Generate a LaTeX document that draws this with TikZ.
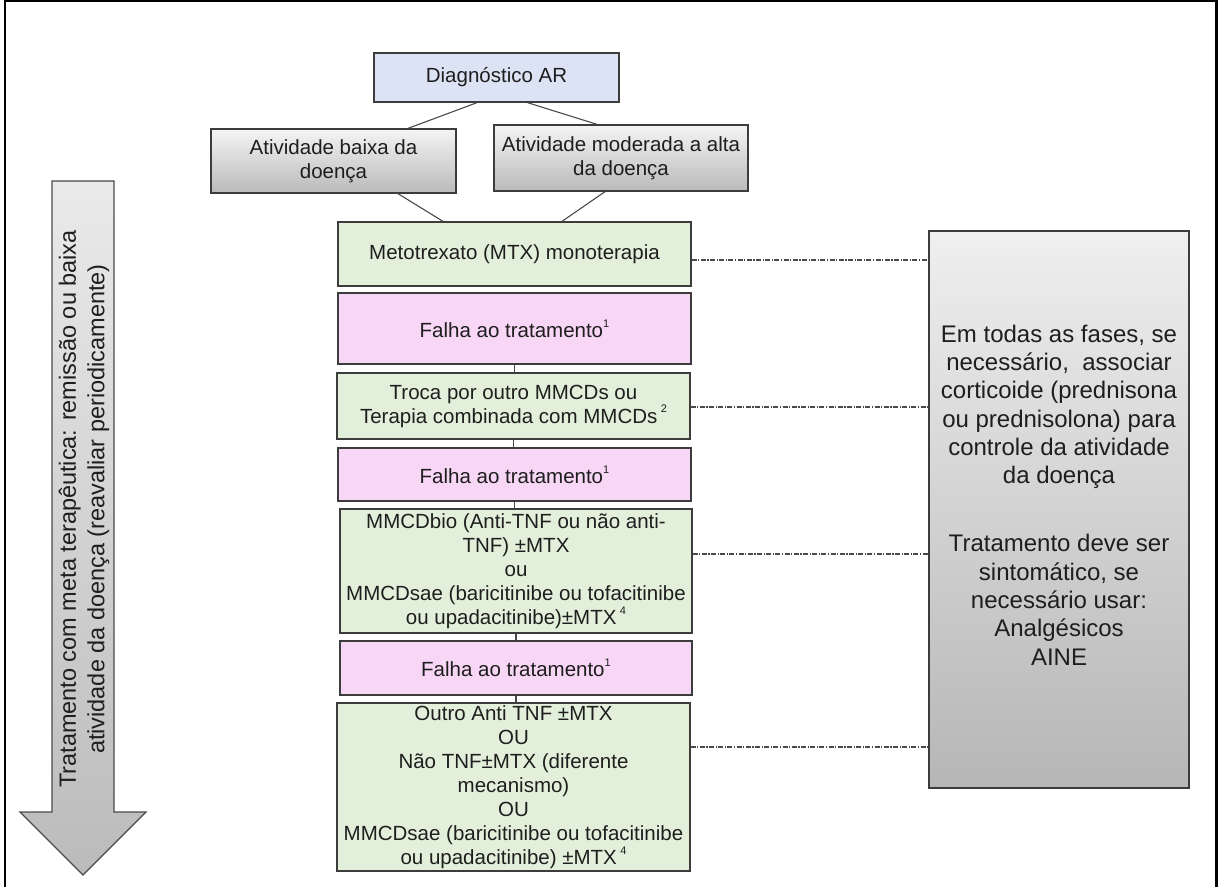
\documentclass[tikz,border=0pt]{standalone}
\usepackage{fontspec}
\setmainfont{Liberation Sans}
\definecolor{bordc}{HTML}{3C3C3C}
\definecolor{linec}{HTML}{4A4A4A}
\definecolor{textc}{HTML}{1E1E1E}
\definecolor{bluec}{HTML}{DCE3F4}
\definecolor{greenc}{HTML}{E2EFDA}
\definecolor{pinkc}{HTML}{F8D6F5}
\definecolor{gtop}{HTML}{F4F4F4}
\definecolor{gbot}{HTML}{BABABA}
\definecolor{stop}{HTML}{EFEFEF}
\definecolor{sbot}{HTML}{B6B6B6}
\definecolor{atop}{HTML}{EAEAEA}
\definecolor{abot}{HTML}{BBBBBB}
\newcommand{\supsm}[1]{\raisebox{0.5em}{\fontsize{11}{11}\selectfont #1}}
\begin{document}
\begin{tikzpicture}[x=1pt,y=-1pt,
  box/.style={draw=bordc, line width=1.3pt, inner sep=0pt, align=center,
    font=\fontsize{20.5}{24}\selectfont, text=textc},
  graybox/.style={box, top color=gtop, bottom color=gbot},
  greenbox/.style={box, fill=greenc},
  pinkbox/.style={box, fill=pinkc},
  conn/.style={draw=linec, line width=1.1pt},
  dd/.style={draw=linec, line width=1.1pt, dash pattern=on 5pt off 1.5pt on 1.2pt off 1.5pt}]
\useasboundingbox (0,0) rectangle (1218,887);
% outer frame
\draw[black, line width=2.4pt] (5,887) -- (5,1.2) -- (1216.5,1.2) -- (1216.5,887);

% left arrow
\shadedraw[top color=atop, bottom color=abot, draw=linec, line width=1.1pt]
  (52,181) -- (114,181) -- (114,812) -- (146,812) -- (83,875) -- (20,812) -- (52,812) -- cycle;
\node[rotate=90, align=center, font=\fontsize{23.5}{28.5}\selectfont, text=textc] (arrtxt) at (84,509)
  {Tratamento com meta terapêutica: remissão ou baixa\\atividade da doença (reavaliar periodicamente)};

% top boxes
\node[box, fill=bluec, minimum width=245pt, minimum height=49pt] (diag) at (496.5,77.5) {Diagnóstico AR};
\node[graybox, minimum width=245pt, minimum height=64pt] (baixa) at (333.5,161) {Atividade baixa da\\doença};
\node[graybox, minimum width=254pt, minimum height=66pt] (mod) at (621,158) {Atividade moderada a alta\\da doença};

% main column
\node[greenbox, minimum width=353pt, minimum height=64pt] (mtx) at (514.5,254) {Metotrexato (MTX) monoterapia};
\node[pinkbox, minimum width=353pt, minimum height=71pt] (f1) at (514.5,328.5) {Falha ao tratamento\supsm{1}};
\node[greenbox, minimum width=353pt, minimum height=66pt] (troca) at (513.5,406) {Troca por outro MMCDs ou\\Terapia combinada com MMCDs\,\supsm{2}};
\node[pinkbox, minimum width=353pt, minimum height=53pt] (f2) at (514.5,474.5) {Falha ao tratamento\supsm{1}};
\node[greenbox, minimum width=352pt, minimum height=124pt] (bio) at (516,571) {MMCDbio (Anti-TNF ou não anti-\\TNF) ±MTX\\ou\\MMCDsae (baricitinibe ou tofacitinibe\\ou upadacitinibe)±MTX\,\supsm{4}};
\node[pinkbox, minimum width=352pt, minimum height=54pt] (f3) at (516,668) {Falha ao tratamento\supsm{1}};
\node[greenbox, minimum width=353pt, minimum height=168pt] (outro) at (513.5,787) {Outro Anti TNF ±MTX\\OU\\Não TNF±MTX (diferente\\mecanismo)\\OU\\MMCDsae (baricitinibe ou tofacitinibe\\ou upadacitinibe) ±MTX\,\supsm{4}};

% side box
\node[box, top color=stop, bottom color=sbot, minimum width=260pt, minimum height=557pt] (side) at (1059,509.5) {};
\node[align=center, font=\fontsize{24}{28.3}\selectfont, text=textc] (sidetxt) at (1059,495)
  {Em todas as fases, se\\necessário,~ associar\\corticoide (prednisona\\ou prednisolona) para\\controle da atividade\\da doença\\[39.7pt]Tratamento deve ser\\sintomático, se\\necessário usar:\\Analgésicos\\AINE};

% connectors top
\draw[conn] ([xshift=-19.5pt]diag.south) -- ([xshift=74.5pt]baixa.north);
\draw[conn] ([xshift=31pt]diag.south) -- ([xshift=-24pt]mod.north);
\draw[conn] ([xshift=64.5pt]baixa.south) -- ([xshift=-71.5pt]mtx.north);
\draw[conn] ([xshift=-16pt]mod.south) -- ([xshift=47.5pt]mtx.north);

% vertical connectors
\draw[conn] (f1.south) -- (f1.south |- troca.north);
\draw[conn] (troca.south) -- (troca.south |- f2.north);
\draw[conn] (f2.south) -- (f2.south |- bio.north);
\draw[conn] (bio.south) -- (bio.south |- f3.north);
\draw[conn] (f3.south) -- (f3.south |- outro.north);

% dash-dot connectors to side box
\draw[dd] ([yshift=-6pt]mtx.east) coordinate (d1) -- (d1 -| side.west);
\draw[dd] ([yshift=-1pt]troca.east) coordinate (d2) -- (d2 -| side.west);
\draw[dd] ([yshift=17pt]bio.east) coordinate (d3) -- (d3 -| side.west);
\draw[dd] ([yshift=40pt]outro.east) coordinate (d4) -- (d4 -| side.west);
\end{tikzpicture}
\end{document}
